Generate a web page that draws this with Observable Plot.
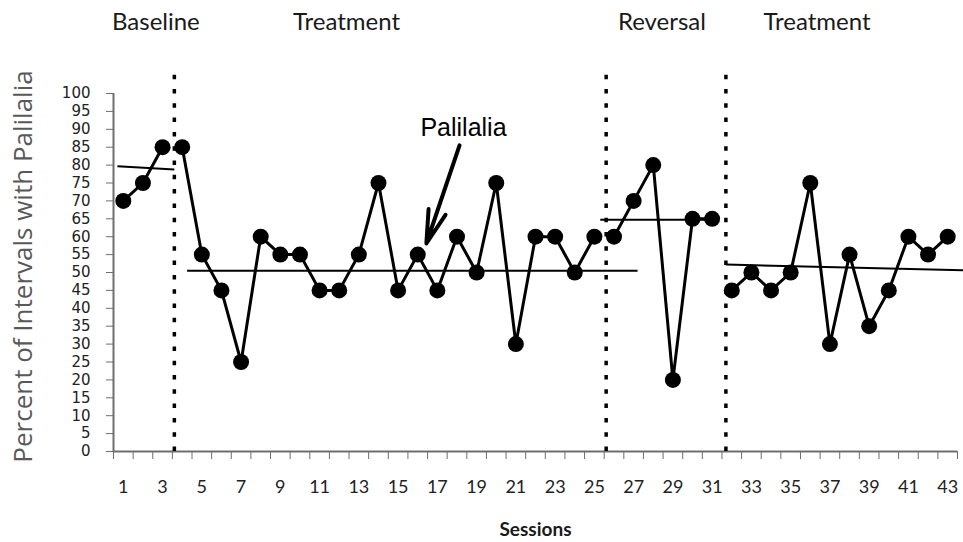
<!DOCTYPE html>
<html><head><meta charset="utf-8">
<script src="https://cdn.jsdelivr.net/npm/d3@7"></script>
<script src="https://cdn.jsdelivr.net/npm/@observablehq/plot@0.6"></script>
<style>body{margin:0;background:#fff}</style>
</head><body><div id="chart"></div>
<script>
// Sessions and percent of intervals with palilalia
const sessions = [1,2,3,4,5,6,7,8,9,10,11,12,13,14,15,16,17,18,19,20,21,22,23,24,25,26,27,28,29,30,31,32,33,34,35,36,37,38,39,40,41,42,43];
const values   = [70,75,85,85,55,45,25,60,55,55,45,45,55,75,45,55,45,60,50,75,30,60,60,50,60,60,70,80,20,65,65,45,50,45,50,75,30,55,35,45,60,55,60];
const phaseOf  = ["Baseline","Baseline","Baseline",
  "Treatment","Treatment","Treatment","Treatment","Treatment","Treatment","Treatment","Treatment","Treatment","Treatment","Treatment","Treatment","Treatment","Treatment","Treatment","Treatment","Treatment","Treatment","Treatment","Treatment","Treatment","Treatment",
  "Reversal","Reversal","Reversal","Reversal","Reversal","Reversal",
  "Treatment 2","Treatment 2","Treatment 2","Treatment 2","Treatment 2","Treatment 2","Treatment 2","Treatment 2","Treatment 2","Treatment 2","Treatment 2","Treatment 2"];

// Phase-change lines (between sessions)
const phaseChanges = [3.6, 25.6, 31.7];
const phaseChangeTop = 107;

// Phase labels
const phaseNames = ["Baseline","Treatment","Reversal","Treatment"];
const phaseLabelX = [2.66, 12.37, 28.44, 36.34];
const phaseLabelY = 120;

// Phase level (trend) lines
const levelX1 = [0.7, 4.25, 25.3, 31.7];
const levelX2 = [3.6, 27.2, 31.3, 43.8];
const levelY1 = [79.7, 50.5, 64.7, 52.2];
const levelY2 = [78.8, 50.5, 64.7, 50.6];

// Axis ticks
const yTicks = [0,5,10,15,20,25,30,35,40,45,50,55,60,65,70,75,80,85,90,95,100];
const xTickLabels = [1,3,5,7,9,11,13,15,17,19,21,23,25,27,29,31,33,35,37,39,41,43];
const xTickMarks = sessions.map(s => s - 0.5).concat([sessions[sessions.length-1] + 0.5]);

// Annotation
const annotText = "Palilalia";
const annotPos = {x: 18.33, y: 90.4};
const arrowFrom = {x: 18.13, y: 85.5};
const arrowTo = {x: 16.44, y: 58.1};

const data = sessions.map((s, i) => ({session: s, value: values[i], phase: phaseOf[i]}));
const levels = levelX1.map((x1, i) => ({x1, x2: levelX2[i], y1: levelY1[i], y2: levelY2[i]}));
const labels = phaseNames.map((n, i) => ({name: n, x: phaseLabelX[i], y: phaseLabelY}));

const chart = Plot.plot({
  width: 963, height: 542,
  marginLeft: 113, marginRight: 6, marginTop: 93, marginBottom: 91,
  x: {domain: [0.5, 43.5]},
  y: {domain: [0, 100]},
  style: {fontFamily: "Lato, sans-serif", background: "white", overflow: "visible"},
  marks: [
    Plot.axisY({ticks: yTicks, tickSize: 7, tickPadding: 16, fontSize: 15, fontFamily: "DejaVu Sans, sans-serif", stroke: "#6e6e6e", fill: "#222", label: null}),
    Plot.axisX({ticks: xTickMarks, tickSize: 8, tickFormat: () => "", stroke: "#6e6e6e", label: null}),
    Plot.axisX({ticks: xTickLabels, tickSize: 0, tickPadding: 29, fontSize: 18, fill: "#222", label: null}),
    Plot.ruleY([0], {stroke: "#6e6e6e", strokeWidth: 2}),
    Plot.ruleX([0.5], {stroke: "#6e6e6e", strokeWidth: 2}),
    Plot.link(levels, {x1: "x1", x2: "x2", y1: "y1", y2: "y2", stroke: "black", strokeWidth: 2}),
    Plot.ruleX(phaseChanges, {x: d => d, y1: 0, y2: phaseChangeTop, stroke: "black", strokeWidth: 3.5, strokeDasharray: "4.5,9.8"}),
    Plot.line(data, {x: "session", y: "value", z: "phase", stroke: "black", strokeWidth: 3}),
    Plot.dot(data, {x: "session", y: "value", r: 8, fill: "black"}),
    Plot.text(labels, {x: "x", y: "y", text: "name", fontSize: 24, fill: "#1a1a1a"}),
    Plot.text([annotText], {x: annotPos.x, y: annotPos.y, text: d => d, fontSize: 25, fontFamily: "Liberation Sans, Arial, sans-serif", fill: "black"}),
    Plot.arrow([0], {x1: arrowFrom.x, y1: arrowFrom.y, x2: arrowTo.x, y2: arrowTo.y, stroke: "black", strokeWidth: 4, headLength: 13, headAngle: 30}),
    Plot.text(["Sessions"], {frameAnchor: "bottom", dy: 84, text: d => d, fontSize: 19, fontWeight: "bold", fill: "#1a1a1a"}),
    Plot.text(["Percent of Intervals with Palilalia"], {frameAnchor: "left", textAnchor: "middle", dx: -90, dy: -6, rotate: -90, text: d => d, fontSize: 26, fontFamily: "Open Sans, sans-serif", fill: "#595959"})
  ]
});
document.getElementById("chart").appendChild(chart);
</script>
</body></html>
